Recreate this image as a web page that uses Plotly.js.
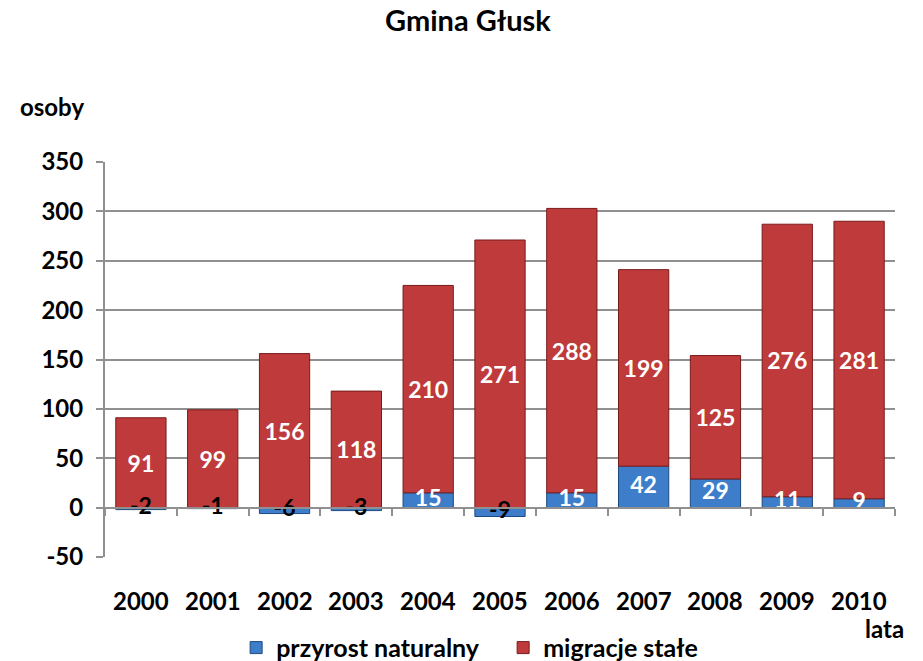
<!DOCTYPE html>
<html><head><meta charset="utf-8">
<script src="https://cdn.plot.ly/plotly-3.0.1.min.js"></script>
<style>html,body{margin:0;padding:0;background:#fff}#c{width:923px;height:661px}</style>
</head><body><div id="c"></div>
<script>
const years = ['2000','2001','2002','2003','2004','2005','2006','2007','2008','2009','2010'];
const przyrost = [-2,-1,-6,-3,15,-9,15,42,29,11,9];
const migracje = [91,99,156,118,210,271,288,199,125,276,281];
const yTicks = [-50,0,50,100,150,200,250,300,350];

const F = 'Lato, "Open Sans", sans-serif';
const lblColor = v => v < 0 ? '#000000' : '#ffffff';
const GRID = '#909090';

const traces = [
  {type:'bar', name:'przyrost naturalny', x:years, y:przyrost,
   marker:{color:'#3d7dca', line:{color:'#1d4a82', width:1}},
   hoverinfo:'x+y'},
  {type:'bar', name:'migracje stałe', x:years, y:migracje,
   marker:{color:'#bf3a3a', line:{color:'#7a1b1c', width:1}},
   text:migracje.map(String), textposition:'inside', insidetextanchor:'middle',
   constraintext:'none', textangle:0,
   textfont:{family:F, size:23, color:'#ffffff', weight:'bold'},
   hoverinfo:'x+y'},
  // labels of przyrost naturalny, centred on each blue segment
  {type:'scatter', mode:'text', x:years, y:przyrost.map(v => v / 2),
   text:przyrost.map(String), textposition:'middle center', cliponaxis:false,
   textfont:{family:F, size:23, color:przyrost.map(lblColor), weight:'bold'},
   showlegend:false, hoverinfo:'skip'}
];

const layout = {
  width:923, height:661,
  margin:{l:105, r:28, t:162, b:104, autoexpand:false},
  paper_bgcolor:'#ffffff', plot_bgcolor:'#ffffff',
  barmode:'relative', bargap:0.3,
  font:{family:F, color:'#000', size:24, weight:'bold'},
  title:{text:'<b>Gmina Głusk</b>', x:0.507, xref:'container', xanchor:'center', y:0.968, yref:'container', yanchor:'middle', font:{family:F, size:29, color:'#000'}},
  xaxis:{type:'category', categoryarray:years, range:[-0.5,10.5], automargin:false,
    anchor:'free', position:0.125, showline:true, linecolor:GRID, linewidth:2,
    ticks:'outside', tickson:'boundaries', ticklen:7, tickcolor:GRID, tickwidth:2,
    showticklabels:false, showgrid:false, zeroline:false},
  yaxis:{range:[-50,350], tickvals:yTicks, ticktext:yTicks.map(String), automargin:false,
    showline:true, linecolor:GRID, linewidth:2,
    ticks:'outside', ticklen:7, tickcolor:GRID, tickwidth:2,
    showgrid:true, gridcolor:GRID, gridwidth:2, zeroline:false,
    tickfont:{family:F, size:24, color:'#000', weight:'bold'}, ticklabelstandoff:8},
  showlegend:true,
  legend:{orientation:'h', x:0.166, xanchor:'left', y:-0.23, yanchor:'middle',
    font:{family:F, size:25, color:'#000', weight:'bold'}, traceorder:'normal', itemwidth:30, entrywidth:222},
  annotations:[
    {text:'<b>osoby</b>', xref:'paper', yref:'paper', x:-0.067, y:1.14, xanchor:'center', yanchor:'middle', showarrow:false, font:{family:F, size:24, color:'#000'}},
    {text:'<b>lata</b>', xref:'paper', yref:'paper', x:0.987, y:-0.18, xanchor:'center', yanchor:'middle', showarrow:false, font:{family:F, size:24, color:'#000'}}
  ].concat(years.map((yr, i) => ({text:'<b>' + yr + '</b>', xref:'x', yref:'paper', x:i, y:-0.11,
    xanchor:'center', yanchor:'middle', showarrow:false, font:{family:F, size:24, color:'#000'}})))
};

Plotly.newPlot('c', traces, layout, {displayModeBar:false, staticPlot:true});
</script></body></html>
